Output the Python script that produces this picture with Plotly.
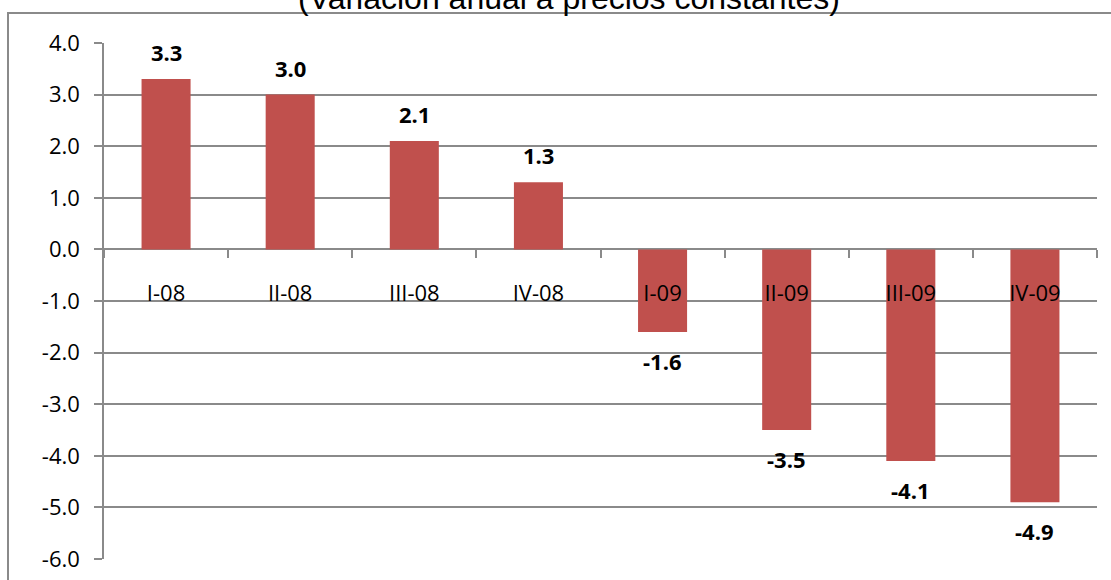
import plotly.graph_objects as go

categories = ["I-08", "II-08", "III-08", "IV-08", "I-09", "II-09", "III-09", "IV-09"]
values = [3.3, 3.0, 2.1, 1.3, -1.6, -3.5, -4.1, -4.9]
y_ticks = [4.0, 3.0, 2.0, 1.0, 0.0, -1.0, -2.0, -3.0, -4.0, -5.0, -6.0]
y_tick_labels = [f"{v:.1f}" for v in y_ticks]
title_text = "(Variación anual a precios constantes)"

BAR = "#C0504D"
GRID = "#8a8a8a"
FONT = "Open Sans"

fig = go.Figure(
    go.Bar(x=categories, y=values, marker=dict(color=BAR, line=dict(width=0)),
           hoverinfo="skip")
)

annotations = []
for c, v in zip(categories, values):
    annotations.append(dict(
        x=c, y=v, xref="x", yref="y",
        text=f"<b>{v:.1f}</b>", showarrow=False,
        yanchor="bottom" if v >= 0 else "top",
        yshift=10 if v >= 0 else -12,
        font=dict(family=FONT, size=22, color="black"),
    ))

annotations.append(dict(
    x=(569 - 104) / 993, y=1 + (43 - 18) / 516, xref="paper", yref="paper",
    text=title_text, showarrow=False, xanchor="center", yanchor="bottom",
    font=dict(family="Liberation Sans, Arial", size=32, color="black"),
))

fig.update_layout(
    width=1111, height=580,
    margin=dict(l=104, r=14, t=43, b=21, autoexpand=False),
    plot_bgcolor="white", paper_bgcolor="white",
    bargap=0.605,
    showlegend=False,
    annotations=annotations,
    shapes=[dict(
        type="rect", xref="paper", yref="paper",
        x0=(8 - 104) / 993, x1=1.3, y0=-0.5, y1=1 + (43 - 13) / 516,
        line=dict(color=GRID, width=2), fillcolor="rgba(0,0,0,0)", layer="below",
    )],
    xaxis=dict(
        type="category", anchor="free", position=0.6, automargin=False,
        tickson="boundaries", ticks="outside", ticklen=8, tickcolor=GRID, tickwidth=1.5,
        showgrid=False, showline=False, zeroline=False,
        ticklabelstandoff=29,
        tickfont=dict(family=FONT, size=22, color="black"),
    ),
    yaxis=dict(
        range=[-6, 4], tickvals=y_ticks, ticktext=y_tick_labels, automargin=False,
        showgrid=True, gridcolor=GRID, gridwidth=1.5,
        showline=True, linecolor=GRID, linewidth=1.5,
        ticks="outside", ticklen=8, tickcolor=GRID, tickwidth=1.5,
        zeroline=False, ticklabelstandoff=10,
        tickfont=dict(family=FONT, size=22, color="black"),
    ),
)

fig.write_html("out.html")
